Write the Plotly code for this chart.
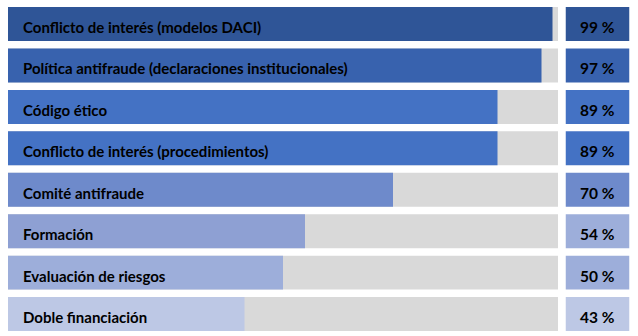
import plotly.graph_objects as go

# Share of bodies with each anti-fraud measure in place (%)
categories = [
    "Conflicto de interés (modelos DACI)",
    "Política antifraude (declaraciones institucionales)",
    "Código ético",
    "Conflicto de interés (procedimientos)",
    "Comité antifraude",
    "Formación",
    "Evaluación de riesgos",
    "Doble financiación",
]
values = [99, 97, 89, 89, 70, 54, 50, 43]
bar_colors = ["#2F5597", "#3862AE", "#4472C4", "#4472C4",
              "#6E8ACB", "#8EA0D3", "#9DAEDA", "#BDC8E5"]
box_colors = ["#2F5597", "#3862AE", "#4472C4", "#4472C4",
              "#6E8ACB", "#9DAEDA", "#9DAEDA", "#BDC8E5"]
track_color = "#D9D9D9"

W, H = 638, 336
rows = list(range(len(categories)))
bar_w = 0.82
font_family = "Lato, 'Liberation Sans', sans-serif"

fig = go.Figure()

# gray background track (full scale)
fig.add_trace(go.Bar(
    y=rows, x=[100] * len(rows), orientation="h", width=bar_w,
    marker=dict(color=track_color, line=dict(width=0)),
    hoverinfo="skip", showlegend=False, xaxis="x", yaxis="y",
))
# value bars
fig.add_trace(go.Bar(
    y=rows, x=values, orientation="h", width=bar_w,
    marker=dict(color=bar_colors, line=dict(width=0)),
    hoverinfo="skip", showlegend=False, xaxis="x", yaxis="y",
))
# value boxes on the right
fig.add_trace(go.Bar(
    y=rows, x=[1] * len(rows), orientation="h", width=bar_w,
    marker=dict(color=box_colors, line=dict(width=0)),
    hoverinfo="skip", showlegend=False, xaxis="x2", yaxis="y",
))

for i, name, v in zip(rows, categories, values):
    # category label inside the bar
    fig.add_annotation(
        x=0, y=i, xref="x", yref="y", xanchor="left", yanchor="middle",
        xshift=13, yshift=-3, showarrow=False,
        text=f"<b>{name}</b>",
        font=dict(family=font_family, size=15, color="#000000"),
    )
    # percentage centred in its box
    fig.add_annotation(
        x=0.5, y=i, xref="x2", yref="y", xanchor="center", yanchor="middle",
        yshift=-3, showarrow=False,
        text=f"<b>{v} %</b>",
        font=dict(family=font_family, size=15.5, color="#000000"),
    )

fig.update_layout(
    width=W, height=H,
    margin=dict(l=0, r=0, t=0, b=0),
    paper_bgcolor="#FFFFFF", plot_bgcolor="#FFFFFF",
    barmode="overlay",
    xaxis=dict(domain=[8 / W, 558 / W], range=[0, 100], visible=False, fixedrange=True),
    xaxis2=dict(domain=[565.5 / W, 629.5 / W], range=[0, 1], visible=False,
                anchor="y", fixedrange=True),
    yaxis=dict(range=[7.53, -0.58], visible=False, fixedrange=True),
)

fig.write_html("out.html")
